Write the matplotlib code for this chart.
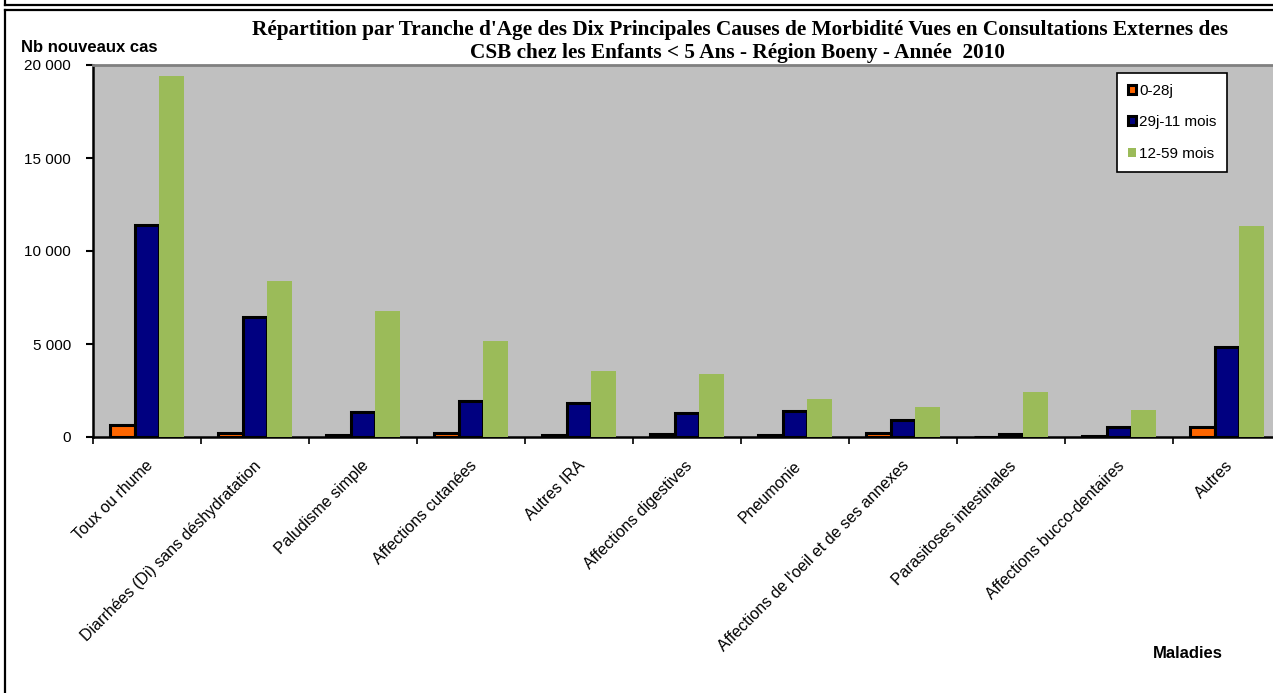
import matplotlib.pyplot as plt
import numpy as np
from matplotlib.patches import Patch
from matplotlib.lines import Line2D
from matplotlib.ticker import FuncFormatter

# Data
maladies = ['Toux ou rhume', 'Diarrhées (Di) sans déshydratation', 'Paludisme simple',
            'Affections cutanées', 'Autres IRA', 'Affections digestives', 'Pneumonie',
            "Affections de l'oeil et de ses annexes", 'Parasitoses intestinales',
            'Affections bucco-dentaires', 'Autres']
tranches = ['0-28j', '29j-11 mois', '12-59 mois']
cas_0_28j = [620, 200, 100, 200, 100, 150, 100, 240, 0, 50, 520]
cas_29j_11m = [11400, 6440, 1370, 1930, 1830, 1290, 1420, 940, 180, 540, 4830]
cas_12_59m = [19420, 8370, 6760, 5150, 3540, 3380, 2040, 1610, 2420, 1450, 11330]

W, H = 1273, 693
fig = plt.figure(figsize=(W / 100, H / 100), dpi=100)
plt.rcParams['font.family'] = ['Liberation Sans', 'DejaVu Sans']

# frame lines of the page
def hline(y, x0, x1):
    fig.add_artist(Line2D([x0 / W, x1 / W], [1 - y / H, 1 - y / H], color='black', lw=1.6))

def vline(x, y0, y1):
    fig.add_artist(Line2D([x / W, x / W], [1 - y0 / H, 1 - y1 / H], color='black', lw=1.6))

hline(4.5, 5.5, W)
vline(5.5, 0, 4.5)
hline(10, 5.5, W)
vline(5.5, 10, H)

ax = fig.add_axes([93 / W, 1 - 437 / H, 1188 / W, (437 - 65) / H])
ax.set_facecolor('#C0C0C0')

x = np.arange(len(maladies))
bw = 0.226
ax.bar(x - bw, cas_0_28j, width=bw, color='#FF6600', edgecolor='black', linewidth=2.2, zorder=2)
ax.bar(x, cas_29j_11m, width=bw, color='#000080', edgecolor='black', linewidth=2.2, zorder=3)
ax.bar(x + bw, cas_12_59m, width=bw, color='#9BBB59', edgecolor='none', zorder=4)

ax.set_xlim(-0.5, len(maladies) - 0.5)
ax.set_ylim(0, 20000)
ax.set_yticks([0, 5000, 10000, 15000, 20000])
ax.yaxis.set_major_formatter(FuncFormatter(lambda v, p: f"{int(v):,}".replace(',', ' ')))
ax.tick_params(axis='y', direction='out', length=5, width=1.5, pad=11, labelsize=11)

ax.set_xticks(np.arange(-0.5, len(maladies), 1.0))
ax.set_xticklabels([])
ax.tick_params(axis='x', which='major', direction='out', length=5, width=1.2)
ax.set_xticks(x + 0.03, minor=True)
ax.set_xticklabels(maladies, minor=True, rotation=45, ha='right', va='center',
                   rotation_mode='anchor', fontsize=11.5)
ax.tick_params(axis='x', which='minor', length=0, pad=19)

for s in ['left', 'bottom']:
    ax.spines[s].set_color('black')
    ax.spines[s].set_linewidth(1.8)
ax.spines['top'].set_color('#808080')
ax.spines['top'].set_linewidth(2)
ax.spines['right'].set_visible(False)

fig.text(740 / W, 1 - 30 / H,
         "Répartition par Tranche d'Age des Dix Principales Causes de Morbidité Vues en Consultations Externes des",
         ha='center', va='center', fontsize=15.3, fontweight='bold', family='Liberation Serif')
fig.text(737 / W, 1 - 53 / H,
         "CSB chez les Enfants < 5 Ans - Région Boeny - Année  2010",
         ha='center', va='center', fontsize=15.3, fontweight='bold', family='Liberation Serif')
fig.text(21 / W, 1 - 47 / H, 'Nb nouveaux cas', ha='left', va='center', fontsize=12, fontweight='bold')
fig.text(1153 / W, 1 - 654 / H, 'Maladies', ha='left', va='center', fontsize=12, fontweight='bold')

handles = [Patch(facecolor='#FF6600', edgecolor='black', linewidth=2.2),
           Patch(facecolor='#000080', edgecolor='black', linewidth=2.2),
           Patch(facecolor='#9BBB59', edgecolor='none')]
leg = fig.legend(handles, tranches, loc='upper left', bbox_to_anchor=(1117 / W, 1 - 73 / H),
                 fontsize=11, frameon=True, fancybox=False, handlelength=0.55, handleheight=0.55,
                 handletextpad=0.2, labelspacing=1.15, borderpad=0.7, borderaxespad=0)
leg.get_frame().set_edgecolor('black')
leg.get_frame().set_linewidth(1.2)
leg.get_frame().set_facecolor('white')
leg.get_frame().set_alpha(1)

fig.savefig('out.png', dpi=100)
